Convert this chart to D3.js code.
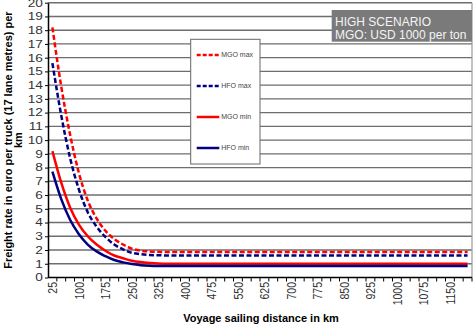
<!DOCTYPE html>
<html>
<head>
<meta charset="utf-8">
<script src="https://cdn.jsdelivr.net/npm/d3@7"></script>
<style>
  body { margin: 0; background: #fff; }
  svg { display: block; font-family: "Liberation Sans", Arial, sans-serif; }
</style>
</head>
<body>
<div id="chart"></div>
<script>
// voyage distances (km), one category every 25 km
const distances = [25, 50, 75, 100, 125, 150, 175, 200, 225, 250, 275, 300,
    325, 350, 375, 400, 425, 450, 475, 500, 525, 550, 575, 600,
    625, 650, 675, 700, 725, 750, 775, 800, 825, 850, 875, 900,
    925, 950, 975, 1000, 1025, 1050, 1075, 1100, 1125, 1150, 1175, 1200];

// freight rate in euro per truck per km
const mgoMax = [18.2, 13.9, 10.4, 7.6, 5.6, 4.3, 3.4, 2.8, 2.4, 2.1, 1.95, 1.9,
    1.87, 1.85, 1.85, 1.85, 1.85, 1.85, 1.85, 1.85, 1.85, 1.85, 1.85, 1.85,
    1.85, 1.85, 1.85, 1.85, 1.85, 1.85, 1.85, 1.85, 1.85, 1.85, 1.85, 1.85,
    1.85, 1.85, 1.85, 1.85, 1.85, 1.85, 1.85, 1.85, 1.85, 1.85, 1.85, 1.85];
const hfoMax = [15.6, 11.8, 8.7, 6.4, 4.75, 3.7, 2.95, 2.4, 2.05, 1.8, 1.7, 1.64,
    1.62, 1.6, 1.6, 1.6, 1.6, 1.6, 1.6, 1.6, 1.6, 1.6, 1.6, 1.6,
    1.6, 1.6, 1.6, 1.6, 1.6, 1.6, 1.6, 1.6, 1.6, 1.6, 1.6, 1.6,
    1.6, 1.6, 1.6, 1.6, 1.6, 1.6, 1.6, 1.6, 1.6, 1.6, 1.6, 1.6];
const mgoMin = [9.2, 6.9, 5.1, 3.85, 3.0, 2.4, 1.95, 1.6, 1.4, 1.22, 1.12, 1.06,
    1.02, 1.0, 1.0, 1.0, 1.0, 1.0, 1.0, 1.0, 1.0, 1.0, 1.0, 1.0,
    1.0, 1.0, 1.0, 1.0, 1.0, 1.0, 1.0, 1.0, 1.0, 1.0, 1.0, 1.0,
    1.0, 1.0, 1.0, 1.0, 1.0, 1.0, 1.0, 1.0, 1.0, 1.0, 1.0, 1.0];
const hfoMin = [7.7, 5.7, 4.2, 3.15, 2.4, 1.9, 1.55, 1.27, 1.1, 0.98, 0.9, 0.86,
    0.84, 0.83, 0.83, 0.83, 0.83, 0.83, 0.83, 0.83, 0.83, 0.83, 0.83, 0.83,
    0.83, 0.83, 0.83, 0.83, 0.83, 0.83, 0.83, 0.83, 0.83, 0.83, 0.83, 0.83,
    0.83, 0.83, 0.83, 0.83, 0.83, 0.83, 0.83, 0.83, 0.83, 0.83, 0.83, 0.83];

const seriesNames = ['MGO max', 'HFO max', 'MGO min', 'HFO min'];
const yTicks = d3.range(0, 21);

const series = [
    { name: seriesNames[0], values: mgoMax, color: '#ff0000', dash: '5,2.5' },
    { name: seriesNames[1], values: hfoMax, color: '#000080', dash: '5,2.5' },
    { name: seriesNames[2], values: mgoMin, color: '#ff0000', dash: null },
    { name: seriesNames[3], values: hfoMin, color: '#000080', dash: null }
];

const width = 474;
const height = 325;
const plot = { left: 48, right: 472, top: 2.7, bottom: 277.5 };

const svg = d3.select('#chart')
    .append('svg')
    .attr('width', width)
    .attr('height', height);

const x = d3.scaleBand()
    .domain(distances)
    .range([plot.left, plot.right]);
const y = d3.scaleLinear()
    .domain([0, 20])
    .range([plot.bottom, plot.top]);

const cx = d => x(d) + x.bandwidth() / 2;

// horizontal gridlines
svg.append('g')
    .selectAll('line')
    .data(yTicks.slice(1))
    .join('line')
        .attr('x1', plot.left)
        .attr('x2', plot.right)
        .attr('y1', d => y(d))
        .attr('y2', d => y(d))
        .attr('stroke', '#6e6e6e')
        .attr('stroke-width', 1.4);

// right border
svg.append('line')
    .attr('x1', plot.right).attr('x2', plot.right)
    .attr('y1', plot.top).attr('y2', plot.bottom)
    .attr('stroke', '#9a9a9a')
    .attr('stroke-width', 1.2);

// y axis
const yAxis = svg.append('g')
    .attr('transform', `translate(${plot.left},0)`)
    .call(d3.axisLeft(y).tickValues(yTicks).tickSize(3).tickSizeOuter(0));
yAxis.select('.domain').attr('stroke', '#000').attr('stroke-width', 1.5);
yAxis.selectAll('.tick line').attr('stroke', '#000');
yAxis.selectAll('.tick text')
    .attr('x', -4)
    .attr('transform', 'scale(1.3,1)')
    .attr('fill', '#333')
    .style('font-size', '10.5px')
    .style('font-family', '"Liberation Sans", Arial, sans-serif');

// x axis: baseline, ticks on band edges, labels every third category
const xAxis = svg.append('g');
xAxis.append('line')
    .attr('x1', plot.left).attr('x2', plot.right)
    .attr('y1', plot.bottom).attr('y2', plot.bottom)
    .attr('stroke', '#000')
    .attr('stroke-width', 1.5);
xAxis.selectAll('line.tick')
    .data(distances)
    .join('line')
        .attr('class', 'tick')
        .attr('x1', d => x(d) + x.bandwidth())
        .attr('x2', d => x(d) + x.bandwidth())
        .attr('y1', plot.bottom)
        .attr('y2', plot.bottom + 4)
        .attr('stroke', '#000');
xAxis.selectAll('text')
    .data(distances.filter((d, i) => i % 3 === 0))
    .join('text')
        .attr('transform', d => `translate(${cx(d)},${plot.bottom + 4.5}) scale(1.3,1) rotate(-90)`)
        .attr('text-anchor', 'end')
        .attr('dy', '0.35em')
        .attr('fill', '#333')
        .style('font-size', '10.5px')
        .text(d => d);

// curves
const line = d3.line()
    .x((v, i) => cx(distances[i]))
    .y(v => y(v))
    .curve(d3.curveMonotoneX);

svg.append('g')
    .selectAll('path')
    .data(series)
    .join('path')
        .attr('d', s => line(s.values))
        .attr('fill', 'none')
        .attr('stroke', s => s.color)
        .attr('stroke-width', 2.5)
        .attr('stroke-dasharray', s => s.dash);

// legend
const legend = svg.append('g').attr('transform', 'translate(190.7,39.3)');
legend.append('rect')
    .attr('width', 69.3)
    .attr('height', 124.7)
    .attr('fill', '#fff')
    .attr('stroke', '#666')
    .attr('stroke-width', 1);
const items = legend.selectAll('g.item')
    .data(series)
    .join('g')
        .attr('class', 'item')
        .attr('transform', (d, i) => `translate(0,${15.7 + i * 31})`);
items.append('line')
    .attr('x1', 6).attr('x2', 28.6)
    .attr('stroke', d => d.color)
    .attr('stroke-width', 2.5)
    .attr('stroke-dasharray', d => d.dash ? '4,2' : null);
items.append('text')
    .attr('x', 30.5)
    .attr('dy', '0.35em')
    .attr('fill', '#444')
    .style('font-size', '7px')
    .text(d => d.name);

// scenario note
const note = svg.append('g');
note.append('rect')
    .attr('x', 331.7).attr('y', 10)
    .attr('width', plot.right - 331.7)
    .attr('height', 31.7)
    .attr('fill', '#7a7a7a');
note.append('text')
    .attr('x', 335).attr('y', 26)
    .attr('fill', '#f4f4f4')
    .style('font-size', '12px')
    .text('HIGH SCENARIO');
note.append('text')
    .attr('x', 335).attr('y', 39.3)
    .attr('fill', '#f4f4f4')
    .style('font-size', '12px')
    .text('MGO: USD 1000 per ton');

// axis titles
svg.append('text')
    .attr('x', (plot.left + plot.right) / 2 + 1)
    .attr('y', 322)
    .attr('text-anchor', 'middle')
    .style('font-size', '11px')
    .style('font-weight', 'bold')
    .text('Voyage sailing distance in km');

const yTitle = svg.append('text')
    .attr('transform', `translate(0,${(plot.top + plot.bottom) / 2}) rotate(-90)`)
    .attr('text-anchor', 'middle')
    .style('font-size', '11px')
    .style('font-weight', 'bold');
yTitle.append('tspan')
    .attr('x', 0).attr('y', 11.5)
    .text('Freight rate in euro per truck (17 lane metres) per');
yTitle.append('tspan')
    .attr('x', 0).attr('y', 22)
    .text('km');
</script>
</body>
</html>
